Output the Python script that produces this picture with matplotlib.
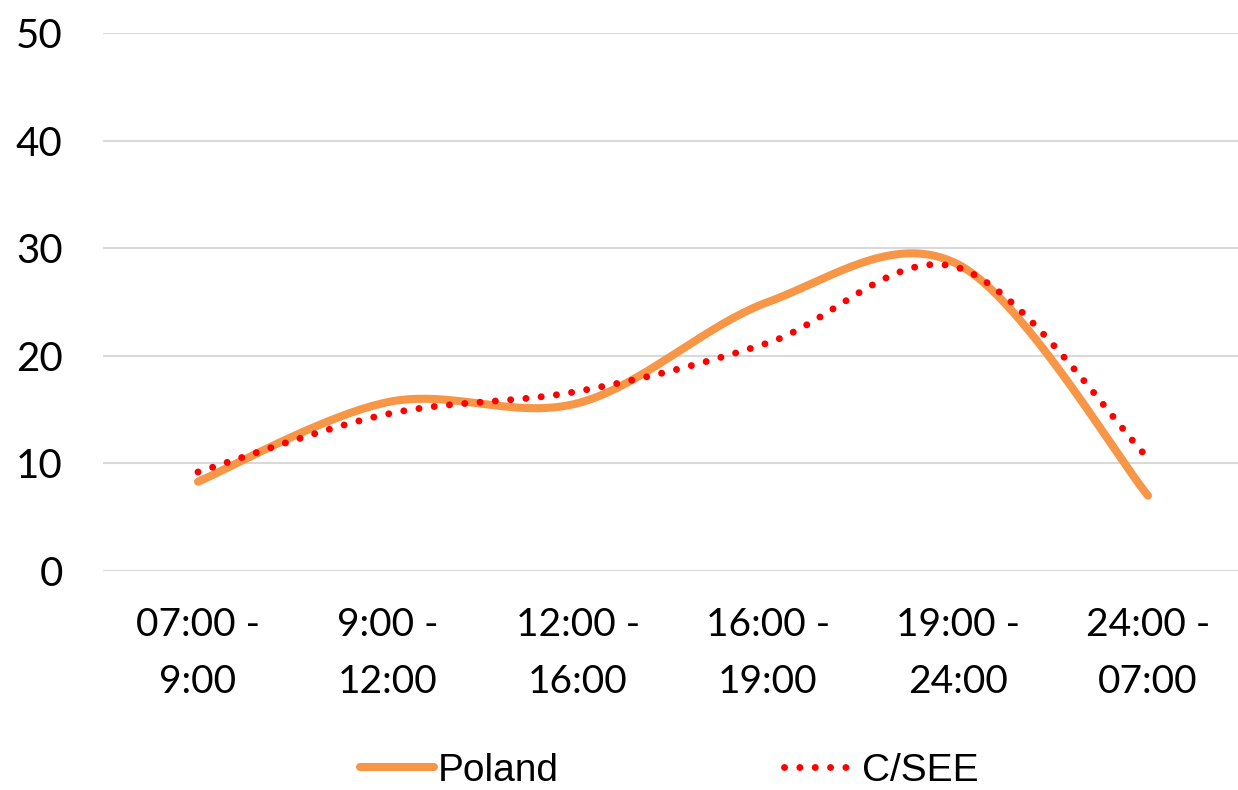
#!/usr/bin/env python3
"""Smoothed line chart: share by time of day, Poland vs C/SEE."""

import matplotlib
matplotlib.use("Agg")
import matplotlib.pyplot as plt
import numpy as np
from matplotlib.font_manager import findfont, FontProperties

categories = ["07:00 -\n9:00", "9:00 -\n12:00", "12:00 -\n16:00",
              "16:00 -\n19:00", "19:00 -\n24:00", "24:00 -\n07:00"]
poland = [8.3, 15.7, 15.6, 25.0, 28.5, 7.0]
csee = [9.2, 14.6, 16.7, 21.2, 28.2, 10.5]
y_ticks = [0, 10, 20, 30, 40, 50]


def smooth(xs, ys, n=40):
    """Excel-style smoothed line (Bezier through points, tension 1/6)."""
    xs = np.asarray(xs, float)
    ys = np.asarray(ys, float)
    px = np.concatenate([[xs[0]], xs, [xs[-1]]])
    py = np.concatenate([[ys[0]], ys, [ys[-1]]])
    out_x, out_y = [], []
    t = np.linspace(0, 1, n)
    for i in range(1, len(px) - 2):
        p0 = np.array([px[i], py[i]])
        p3 = np.array([px[i + 1], py[i + 1]])
        c1 = p0 + (np.array([px[i + 1], py[i + 1]]) - np.array([px[i - 1], py[i - 1]])) / 6
        c2 = p3 - (np.array([px[i + 2], py[i + 2]]) - np.array([px[i], py[i]])) / 6
        pts = ((1 - t)[:, None] ** 3 * p0 + 3 * ((1 - t) ** 2 * t)[:, None] * c1
               + 3 * ((1 - t) * t ** 2)[:, None] * c2 + (t ** 3)[:, None] * p3)
        out_x.extend(pts[:, 0])
        out_y.extend(pts[:, 1])
    return np.array(out_x), np.array(out_y)


tick_font = "Lato"
legend_font = "Liberation Sans Narrow"
try:
    findfont(FontProperties(family=legend_font), fallback_to_default=False)
except Exception:
    legend_font = "Liberation Sans"

fig = plt.figure(figsize=(12.38, 7.9), dpi=100)
ax = fig.add_axes([103 / 1238, 219 / 790, 1135 / 1238, 538 / 790])

x = np.arange(len(categories))
sx, sy = smooth(x, poland)
ax.plot(sx, sy, color="#F79646", lw=5.8, solid_capstyle="round", label="Poland", zorder=3)
sx, sy = smooth(x, csee)
ax.plot(sx, sy, color="#FF0000", lw=5.0, linestyle=(0, (0.01, 2.2)),
        dash_capstyle="round", label="C/SEE", zorder=4)

ax.set_ylim(0, 50)
ax.set_xlim(-0.5, 5.5 - 5 / 190)
ax.set_yticks(y_ticks)
ax.set_xticks(x)
ax.set_xticklabels(categories, fontsize=28, family=tick_font, linespacing=1.72)
ax.set_yticklabels([str(v) for v in y_ticks], fontsize=29, family=tick_font)
ax.tick_params(length=0, axis="y", pad=29)
ax.tick_params(length=0, axis="x", pad=26)
for s in ax.spines.values():
    s.set_visible(False)
ax.grid(True, axis="y", color="#D9D9D9", lw=1.5)
ax.set_axisbelow(True)

ax.legend(loc="center", bbox_to_anchor=(669 / 1238, 19 / 790),
          bbox_transform=fig.transFigure, ncol=2, frameon=False,
          prop={"family": legend_font, "size": 28}, handlelength=1.9,
          handletextpad=0.1, columnspacing=5.8, borderaxespad=0)

fig.savefig("out.png", dpi=100)
